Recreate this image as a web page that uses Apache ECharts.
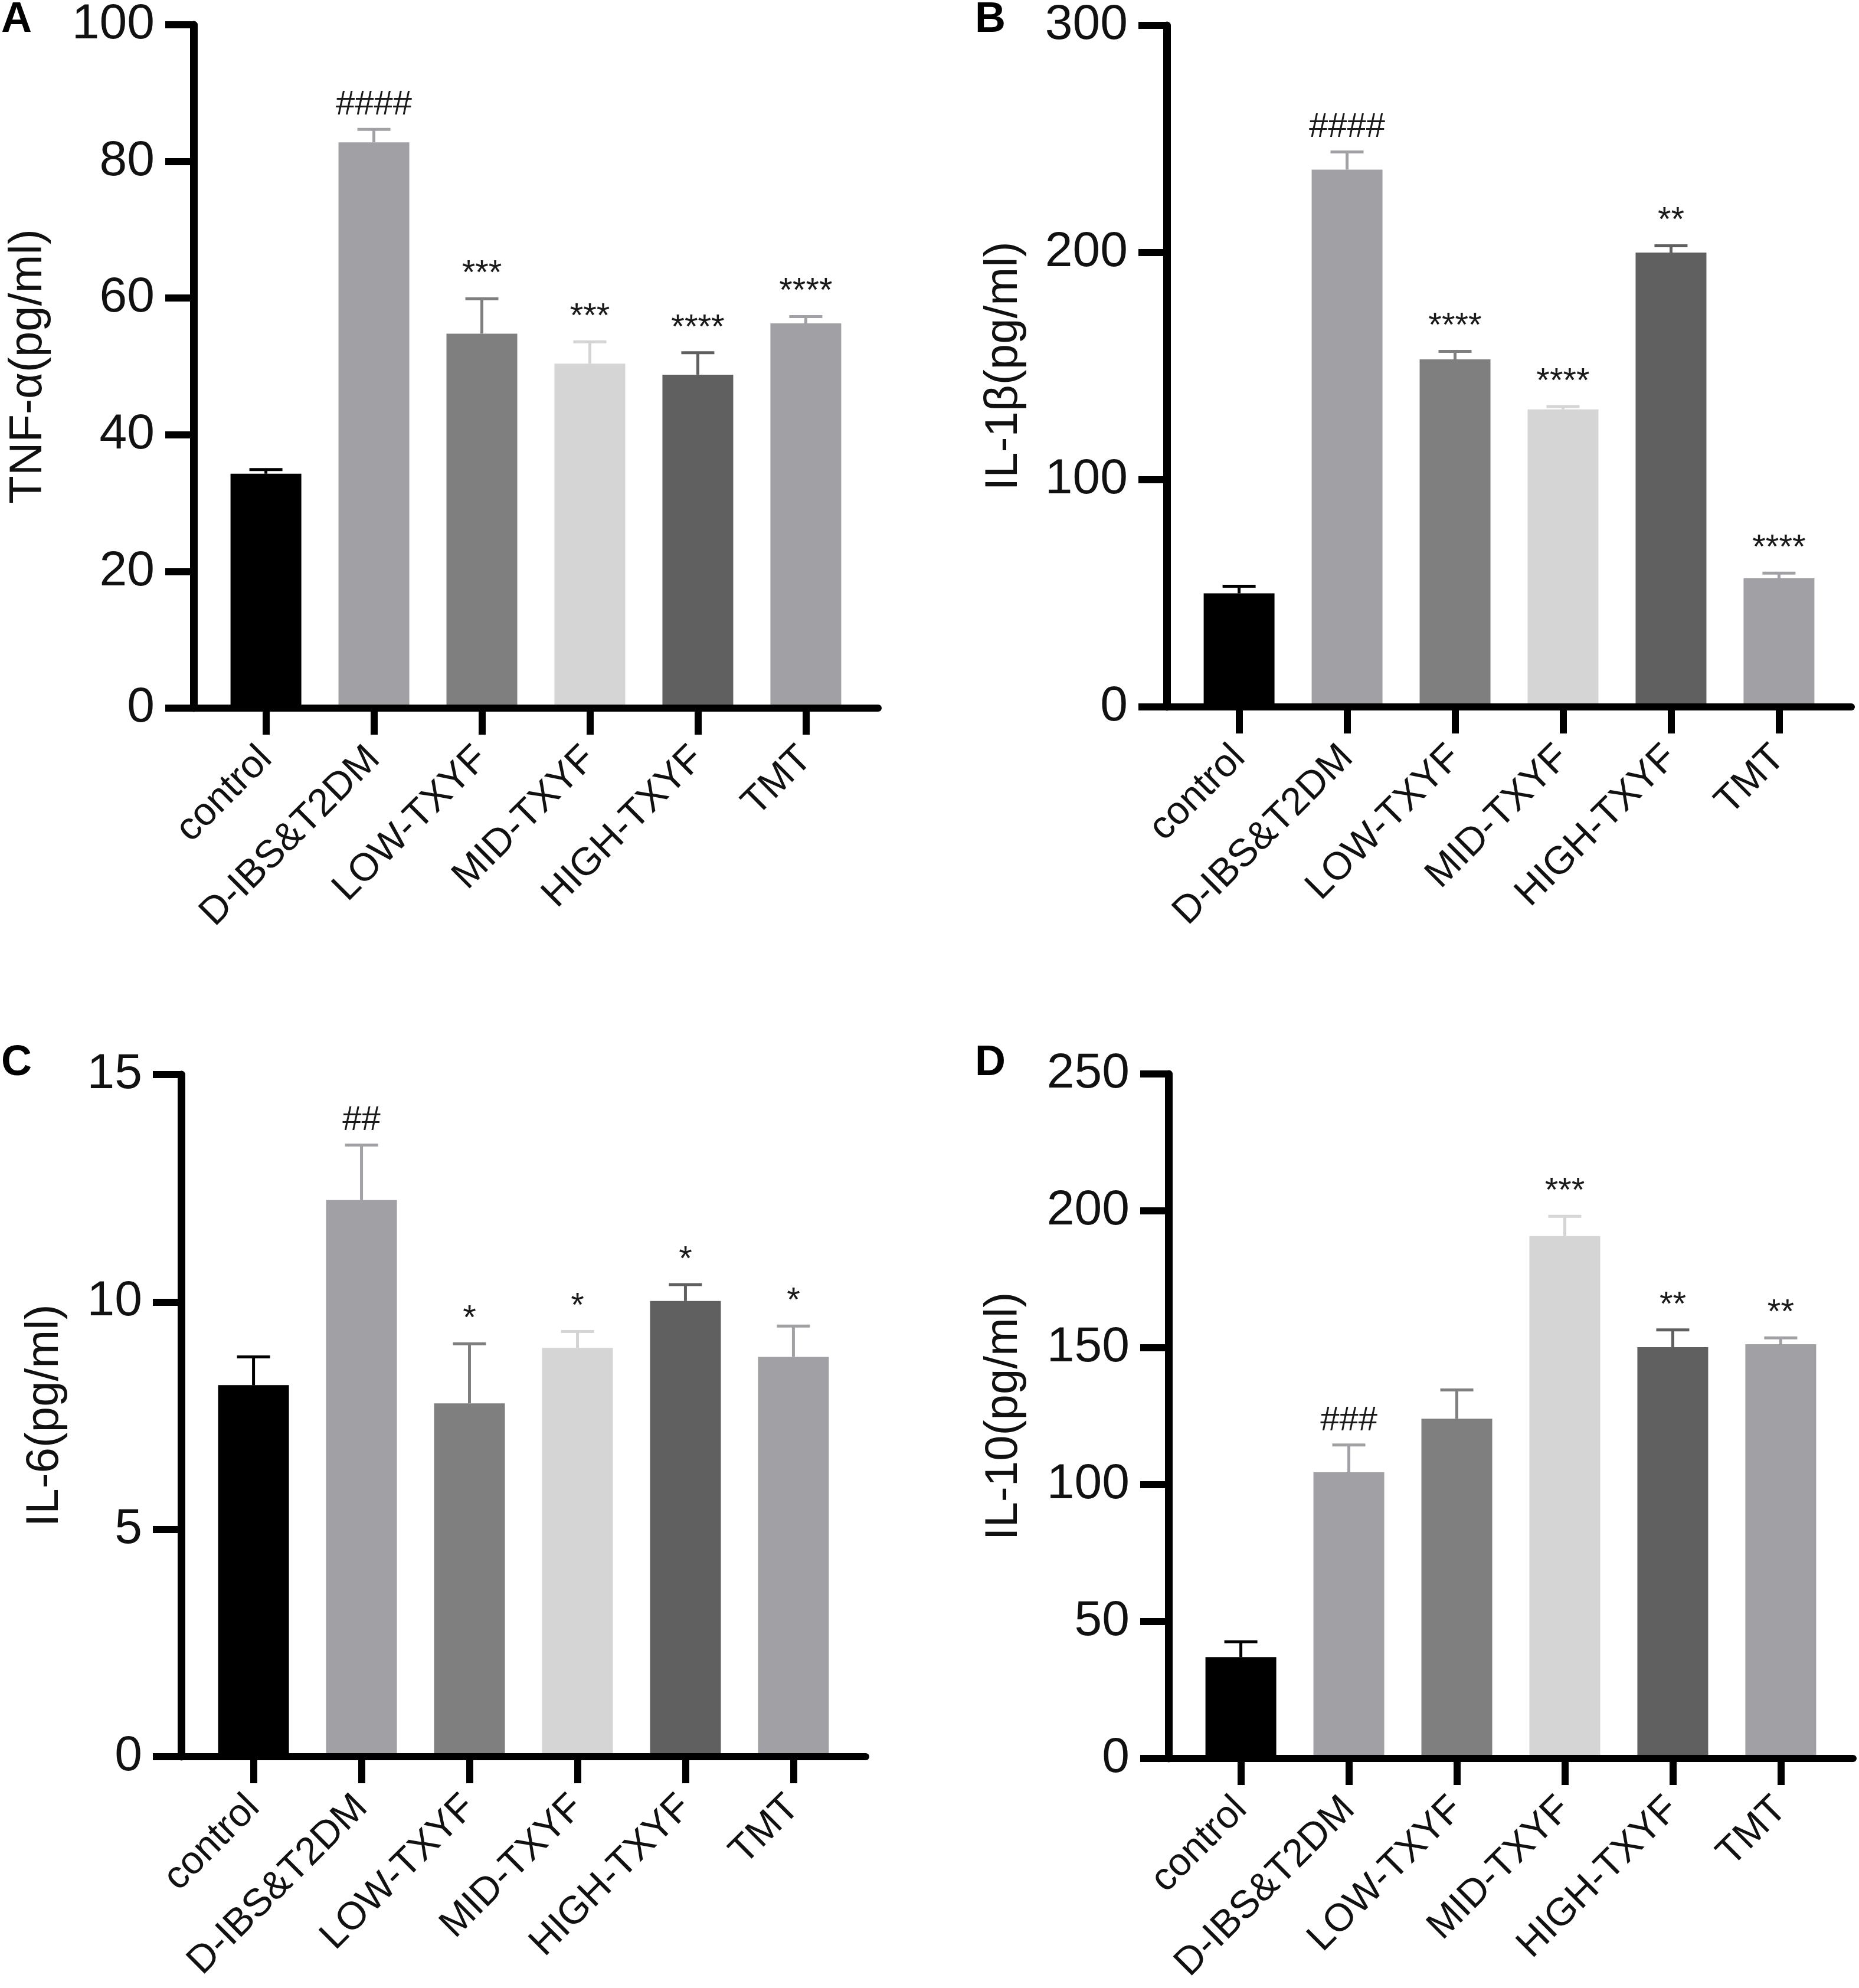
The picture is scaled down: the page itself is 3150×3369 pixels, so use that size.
<!DOCTYPE html>
<html>
<head>
<meta charset="utf-8">
<script src="https://cdn.jsdelivr.net/npm/echarts@6/dist/echarts.min.js"></script>
<style>
  html, body { margin: 0; padding: 0; background: #fff; }
  #chart { width: 3150px; height: 3369px; }
</style>
</head>
<body>
<div id="chart"></div>
<script>
const groups = ["control", "D-IBS&T2DM", "LOW-TXYF", "MID-TXYF", "HIGH-TXYF", "TMT"];

// TNF-α
const tnfMean = [34.3, 82.8, 54.8, 50.4, 48.8, 56.3];
const tnfSd = [0.6, 1.9, 5.1, 3.2, 3.2, 1.0];
const tnfMarks = ["", "####", "***", "***", "****", "****"];

// IL-1β
const il1bMean = [50.0, 236.5, 153.0, 131.0, 200.0, 56.6];
const il1bSd = [3.1, 7.8, 3.5, 1.2, 3.0, 2.3];
const il1bMarks = ["", "####", "****", "****", "**", "****"];

// IL-6
const il6Mean = [8.17, 12.24, 7.77, 8.99, 10.02, 8.79];
const il6Sd = [0.62, 1.21, 1.31, 0.36, 0.36, 0.68];
const il6Marks = ["", "##", "*", "*", "*", "*"];

// IL-10
const il10Mean = [37.0, 104.5, 124.1, 190.8, 150.2, 151.3];
const il10Sd = [5.6, 10.0, 10.5, 7.2, 6.3, 2.3];
const il10Marks = ["", "###", "", "***", "**", "**"];

const barColors = ["#000000", "#a1a1a5", "#7f7f7f", "#d5d5d5", "#606060", "#a1a1a5"];
const font = "Liberation Sans, Arial, Helvetica, sans-serif";

const panels = [
  { tag: "A", name: "TNF-α(pg/ml)", mean: tnfMean, sd: tnfSd, marks: tnfMarks,
    max: 100, step: 20, left: 328, top: 42, height: 1158, nameGap: 241 },
  { tag: "B", name: "IL-1β(pg/ml)", mean: il1bMean, sd: il1bSd, marks: il1bMarks,
    max: 300, step: 100, left: 1977, top: 43, height: 1155, nameGap: 237 },
  { tag: "C", name: "IL-6(pg/ml)", mean: il6Mean, sd: il6Sd, marks: il6Marks,
    max: 15, step: 5, left: 307, top: 1821, height: 1156, nameGap: 192 },
  { tag: "D", name: "IL-10(pg/ml)", mean: il10Mean, sd: il10Sd, marks: il10Marks,
    max: 250, step: 50, left: 1980, top: 1820, height: 1160, nameGap: 240 },
];

const tagPos = [[2, -2], [1652, -2], [2, 1766], [1652, 1766]];
const idx = groups.map((g, i) => i);

const option = {
  backgroundColor: "#fff",
  animation: false,
  title: panels.map((p, k) => ({
    text: p.tag, left: tagPos[k][0], top: tagPos[k][1], padding: 0,
    textStyle: { fontSize: 72, fontWeight: "bold", color: "#000", fontFamily: font },
  })),
  grid: panels.map((p) => ({ left: p.left, top: p.top, width: 1160, height: p.height })),
  xAxis: panels.map((p, k) => ({
    type: "value", gridIndex: k, min: -0.67, max: 5.67, z: 10,
    splitLine: { show: false },
    axisLine: { show: true, onZero: false, lineStyle: { color: "#000", width: 12 } },
    axisTick: { show: true, customValues: idx, length: 45, lineStyle: { color: "#000", width: 12 } },
    axisLabel: {
      customValues: idx, rotate: 45, margin: 76, fontSize: 66, color: "#111", fontFamily: font,
      formatter: (v) => groups[Math.round(v)],
    },
  })),
  yAxis: panels.map((p, k) => ({
    type: "value", gridIndex: k, min: 0, max: p.max, interval: p.step, z: 10,
    name: p.name, nameLocation: "middle", nameGap: p.nameGap,
    nameTextStyle: { fontSize: 78, color: "#111", fontFamily: font },
    splitLine: { show: false },
    axisLine: { show: true, onZero: false, lineStyle: { color: "#000", width: 13 } },
    axisTick: { show: true, length: 48, lineStyle: { color: "#000", width: 12 } },
    axisLabel: { fontSize: 84, margin: 66, color: "#111", fontFamily: font, showMaxLabel: true, showMinLabel: true },
  })),
  series: [],
};

panels.forEach((p, k) => {
  option.series.push({
    type: "bar", xAxisIndex: k, yAxisIndex: k, barWidth: 120,
    data: p.mean.map((m, i) => ({ value: [i, m], itemStyle: { color: barColors[i] } })),
  });
  option.series.push({
    type: "custom", xAxisIndex: k, yAxisIndex: k, z: 5,
    data: p.mean.map((m, i) => [i, m, p.sd[i]]),
    encode: { x: 0, y: 1 },
    renderItem: (params, api) => {
      const i = api.value(0);
      const m = api.value(1);
      const s = api.value(2);
      const base = api.coord([i, m]);
      const tip = api.coord([i, m + s]);
      const c = barColors[i];
      return {
        type: "group",
        children: [
          { type: "line", shape: { x1: base[0], y1: base[1], x2: tip[0], y2: tip[1] },
            style: { stroke: c, lineWidth: 5 } },
          { type: "line", shape: { x1: tip[0] - 28, y1: tip[1], x2: tip[0] + 28, y2: tip[1] },
            style: { stroke: c, lineWidth: 5 } },
          { type: "text", x: tip[0], y: tip[1] - 12,
            style: { text: p.marks[i], fontSize: 58, fontFamily: font, fill: "#1a1a1a",
                     align: "center", verticalAlign: "bottom" } },
        ],
      };
    },
  });
});

const chart = echarts.init(document.getElementById("chart"));
chart.setOption(option);
</script>
</body>
</html>
